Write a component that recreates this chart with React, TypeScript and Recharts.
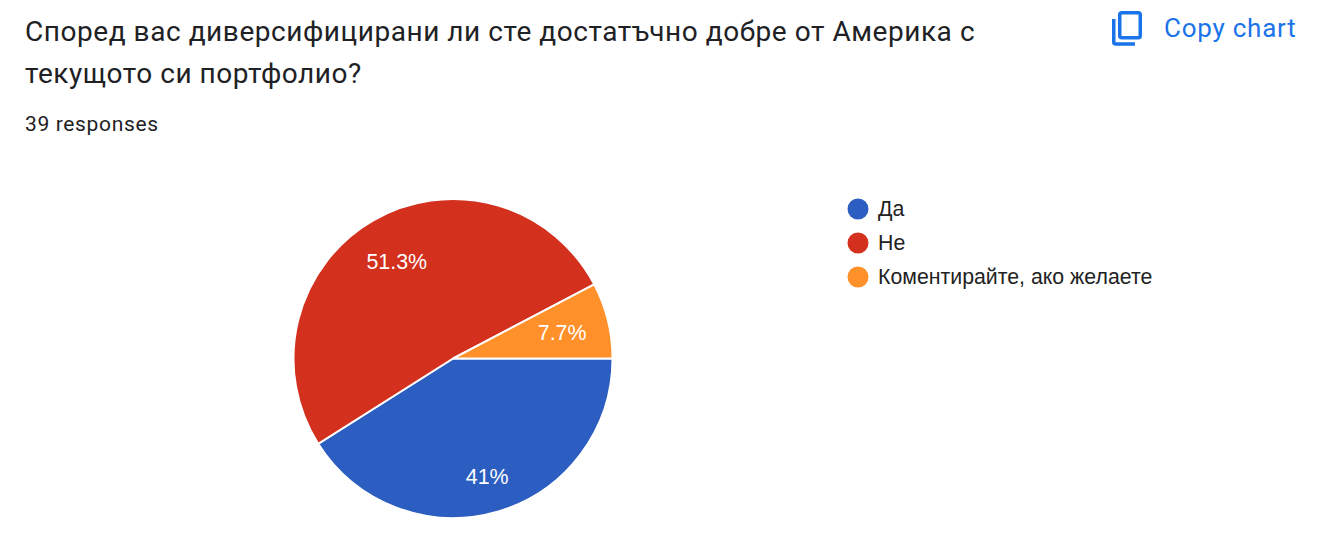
import { PieChart, Pie, Cell, Legend } from "recharts";

// ── Data ───────────────────────────────────────────────────────────────────────

const TITLE_LINES = [
  "Според вас диверсифицирани ли сте достатъчно добре от Америка с",
  "текущото си портфолио?",
];
const SUBTITLE = "39 responses";
const COPY_LABEL = "Copy chart";

const CATEGORIES = ["Да", "Не", "Коментирайте, ако желаете"];
const RESPONSES = [16, 20, 3];
const COLORS = ["#2C5DC1", "#D3301E", "#FF902A"];

const chartData = CATEGORIES.map((name, i) => ({ name, value: RESPONSES[i] }));

const RAD = Math.PI / 180;

// ── Sub-components ─────────────────────────────────────────────────────────────

function SliceLabel({ cx, cy, midAngle, outerRadius, percent, index }: any) {
  // The largest slice labels sit closer to the middle, the blue one further out
  const r = outerRadius * (index === 0 ? 0.77 : 0.705);
  const x = cx + r * Math.cos(-midAngle * RAD);
  const y = cy + r * Math.sin(-midAngle * RAD) + 1;
  const pct = (percent * 100).toFixed(1).replace(/\.0$/, "");
  return (
    <text
      x={x}
      y={y}
      fill="#fff"
      fontSize={21.4}
      fontFamily="'Liberation Sans', Arial, sans-serif"
      textAnchor="middle"
      dominantBaseline="central"
    >
      {pct}%
    </text>
  );
}

function LegendList() {
  return (
    <div>
      {CATEGORIES.map((name, i) => (
        <div key={name} style={{ display: "flex", alignItems: "center", height: 34 }}>
          <svg width="22" height="22" viewBox="0 0 22 22" style={{ marginRight: 9 }}>
            <circle cx="11" cy="11" r="10.5" fill={COLORS[i]} />
          </svg>
          <span style={{ fontSize: 21.3, color: "#222", fontFamily: "'Liberation Sans', Arial, sans-serif" }}>
            {name}
          </span>
        </div>
      ))}
    </div>
  );
}

// ── Component ──────────────────────────────────────────────────────────────────

export default function App() {
  return (
    <div
      style={{
        position: "absolute",
        left: 0,
        top: 0,
        width: 1320,
        height: 545,
        background: "#fff",
        overflow: "hidden",
        fontFamily: "Roboto, sans-serif",
      }}
    >
      <PieChart width={1320} height={545} margin={{ top: 0, right: 0, bottom: 0, left: 0 }}>
        <Pie
          data={chartData}
          dataKey="value"
          nameKey="name"
          cx={453}
          cy={358.5}
          outerRadius={159.5}
          startAngle={0}
          endAngle={-360}
          stroke="#fff"
          strokeWidth={2}
          label={SliceLabel}
          labelLine={false}
          isAnimationActive={false}
        >
          {chartData.map((d, i) => (
            <Cell key={d.name} fill={COLORS[i]} />
          ))}
        </Pie>
        <Legend
          content={<LegendList />}
          wrapperStyle={{ position: "absolute", left: 847, top: 192, width: 340, bottom: "auto" }}
        />
      </PieChart>

      {/* Header */}
      {TITLE_LINES.map((line, i) => (
        <div
          key={line}
          style={{
            position: "absolute",
            left: 25,
            top: 13 + i * 42,
            fontSize: 28,
            lineHeight: "38px",
            letterSpacing: 0.55,
            color: "#202124",
            whiteSpace: "nowrap",
          }}
        >
          {line}
        </div>
      ))}
      <div
        style={{
          position: "absolute",
          left: 25,
          top: 111,
          fontSize: 21,
          lineHeight: "26px",
          letterSpacing: 0.65,
          color: "#202124",
        }}
      >
        {SUBTITLE}
      </div>

      {/* Copy chart */}
      <svg
        width="30"
        height="35"
        viewBox="0 0 30 35"
        style={{ position: "absolute", left: 1112, top: 11 }}
        fill="none"
        stroke="#1A73E8"
        strokeWidth="3.5"
      >
        <rect x="7.75" y="1.75" width="20.5" height="25" rx="2" />
        <path d="M1.75 8 V31 a2 2 0 0 0 2 2 H23" />
      </svg>
      <div
        style={{
          position: "absolute",
          left: 1164,
          top: 10,
          fontSize: 26,
          lineHeight: "36px",
          letterSpacing: 0.75,
          color: "#1A73E8",
          whiteSpace: "nowrap",
        }}
      >
        {COPY_LABEL}
      </div>
    </div>
  );
}
